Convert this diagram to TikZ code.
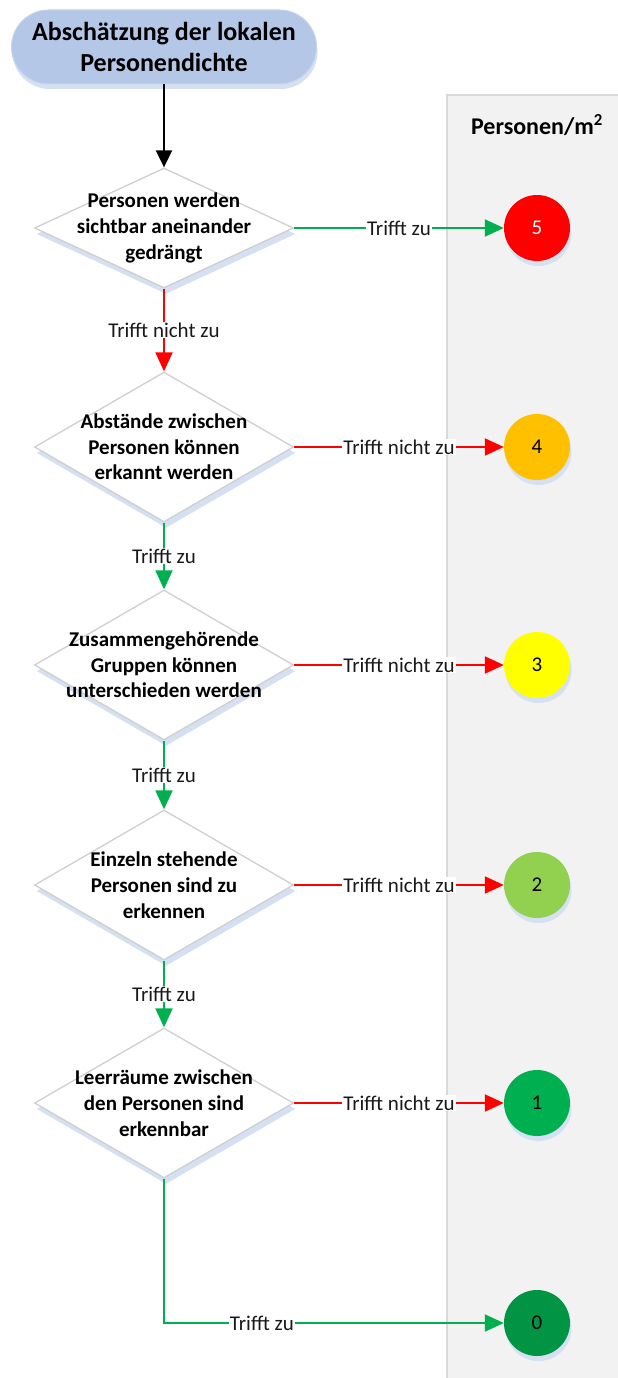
\documentclass[tikz,border=0pt]{standalone}
\usepackage{fontspec}
\setmainfont{Carlito}
\usetikzlibrary{shapes.geometric, arrows.meta, shadows}

\definecolor{titleblue}{HTML}{B4C7E7}
\definecolor{titleline}{HTML}{C7D5EC}
\definecolor{shadowblue}{HTML}{D5E1F2}
\definecolor{diagray}{HTML}{CFCFCF}
\definecolor{panelgray}{HTML}{F2F2F2}
\definecolor{panelline}{HTML}{D9D9D9}
\definecolor{okgreen}{HTML}{00B050}
\definecolor{nored}{HTML}{FF0000}
\definecolor{dens5}{HTML}{FF0000}
\definecolor{dens4}{HTML}{FFC000}
\definecolor{dens3}{HTML}{FFFF00}
\definecolor{dens2}{HTML}{92D050}
\definecolor{dens1}{HTML}{00B050}
\definecolor{dens0}{HTML}{009444}

\begin{document}
\begin{tikzpicture}[x=1pt, y=-1pt,
  start/.style={rectangle, rounded corners=37pt, draw=titleline, line width=1pt, fill=titleblue,
    minimum width=305pt, minimum height=74pt, align=center,
    font=\fontsize{26}{31}\selectfont\bfseries,
    drop shadow={shadow xshift=1pt, shadow yshift=-5pt, fill=shadowblue, opacity=1}},
  decision/.style={diamond, draw=diagray, line width=1.3pt, fill=white, inner sep=0pt,
    minimum width=259pt, minimum height=150pt,
    drop shadow={shadow xshift=2pt, shadow yshift=-6pt, fill=shadowblue, opacity=1}},
  dtext/.style={align=center, font=\fontsize{21}{25.7}\selectfont\bfseries},
  result/.style={circle, minimum size=66pt, inner sep=0pt, font=\fontsize{21}{25}\selectfont,
    drop shadow={shadow xshift=1.5pt, shadow yshift=-5pt, fill=shadowblue, opacity=1}},
  head/.style={font=\fontsize{24}{28}\selectfont\bfseries},
  lbl/.style={fill=white, inner sep=1pt, text=black!90, font=\fontsize{21}{25}\selectfont},
  yes/.style={draw=okgreen, line width=2pt, -{Triangle[length=19pt,width=17pt]}},
  no/.style={draw=nored, line width=2pt, -{Triangle[length=19pt,width=17pt]}}]

  \useasboundingbox (0,0) rectangle (618,1378);

  % Spalte mit den Ergebnissen
  \fill[panelgray] (447,95) rectangle (618,1378);
  \draw[panelline, line width=1.5pt] (447,1378) -- (447,95) -- (618,95);
  \node[head] (head) at (537,125) {Personen/m\textsuperscript{2}};

  % Start und Abfragen
  \node[start] (start) at (164,47) {Abschätzung der lokalen\\Personendichte};
  \node[decision, minimum height=120pt, label={[dtext]center:Personen werden\\sichtbar aneinander\\gedrängt}] (q1) at (164,228) {};
  \node[decision, label={[dtext]center:Abstände zwischen\\Personen können\\erkannt werden}] (q2) at (164,447) {};
  \node[decision, label={[dtext]center:Zusammengehörende\\Gruppen können\\unterschieden werden}] (q3) at (164,665) {};
  \node[decision, label={[dtext]center:Einzeln stehende\\Personen sind zu\\erkennen}] (q4) at (164,885) {};
  \node[decision, label={[dtext]center:Leerräume zwischen\\den Personen sind\\erkennbar}] (q5) at (164,1103) {};

  % Personendichte
  \node[result, fill=dens5, text=white] (r5) at (537,228) {5};
  \node[result, fill=dens4] (r4) at (537,447) {4};
  \node[result, fill=dens3] (r3) at (537,665) {3};
  \node[result, fill=dens2] (r2) at (537,885) {2};
  \node[result, fill=dens1] (r1) at (537,1103) {1};
  \node[result, fill=dens0] (r0) at (537,1323) {0};

  % Verbindungen
  \draw[line width=2pt, -{Triangle[length=17pt,width=16pt]}] (start) -- (q1);
  \draw[yes] (q1) -- node[lbl] {Trifft zu} (r5);
  \draw[no] (q1) -- node[lbl] {Trifft nicht zu} (q2);
  \draw[no] (q2) -- node[lbl] {Trifft nicht zu} (r4);
  \draw[yes] (q2) -- node[lbl] {Trifft zu} (q3);
  \draw[no] (q3) -- node[lbl] {Trifft nicht zu} (r3);
  \draw[yes] (q3) -- node[lbl] {Trifft zu} (q4);
  \draw[no] (q4) -- node[lbl] {Trifft nicht zu} (r2);
  \draw[yes] (q4) -- node[lbl] {Trifft zu} (q5);
  \draw[no] (q5) -- node[lbl] {Trifft nicht zu} (r1);
  \draw[yes] (q5) |- node[lbl, pos=0.644] {Trifft zu} (r0);
\end{tikzpicture}
\end{document}
